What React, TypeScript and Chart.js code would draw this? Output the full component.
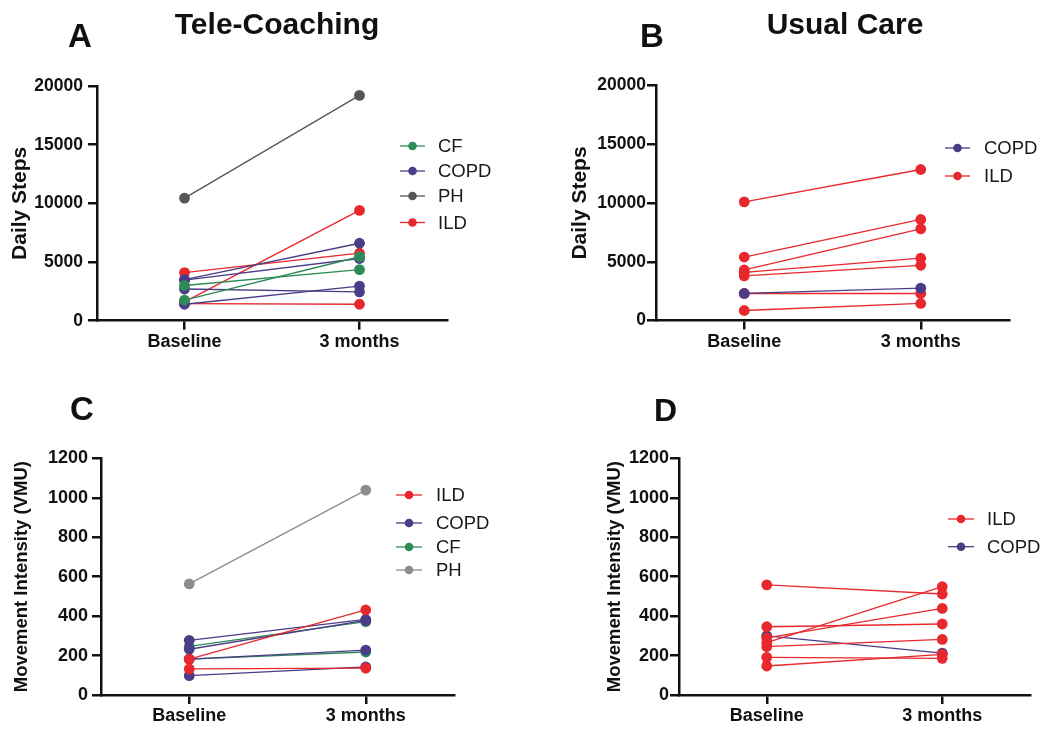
import React, { useEffect, useRef } from 'react';
import { Chart, registerables } from 'chart.js';

Chart.register(...registerables);

// ---------- data ----------
const categories = ['Baseline', '3 months'];

const stepTicks = [0, 5000, 10000, 15000, 20000];
const vmuTicks = [0, 200, 400, 600, 800, 1000, 1200];

// Panel A – Tele-Coaching, daily steps
const aCfBaseline = [3000, 1750];
const aCf3Months = [4350, 5450];
const aCopdBaseline = [3500, 3450, 2700, 1400];
const aCopd3Months = [6600, 5300, 2450, 2950];
const aPhBaseline = [10450];
const aPh3Months = [19200];
const aIldBaseline = [4100, 1600, 1450];
const aIld3Months = [5750, 9400, 1400];

// Panel B – Usual Care, daily steps
const bCopdBaseline = [2300];
const bCopd3Months = [2750];
const bIldBaseline = [10100, 5400, 4300, 4100, 3800, 2300, 850];
const bIld3Months = [12850, 8600, 7800, 5300, 4700, 2300, 1450];

// Panel C – Tele-Coaching, movement intensity
const cIldBaseline = [182, 132];
const cIld3Months = [431, 136];
const cCopdBaseline = [277, 232, 182, 98];
const cCopd3Months = [383, 378, 228, 143];
const cCfBaseline = [246, 182];
const cCf3Months = [372, 218];
const cPhBaseline = [563];
const cPh3Months = [1039];

// Panel D – Usual Care, movement intensity
const dIldBaseline = [558, 346, 265, 290, 245, 191, 147];
const dIld3Months = [512, 360, 549, 439, 282, 186, 206];
const dCopdBaseline = [300];
const dCopd3Months = [212];

// ---------- styles ----------
const GREEN = '#2e8b57';
const PURPLE = '#4b3c87';
const DARKGREY = '#555555';
const LIGHTGREY = '#8c8c8c';
const RED = '#e8282c';
const FONT = '"Liberation Sans", Arial, Helvetica, sans-serif';
const INK = '#111111';

type Group = { label: string; color: string; base: number[]; months: number[] };

type PanelCfg = {
  left: number; top: number; w: number; h: number;
  plot: { l: number; t: number; r: number; b: number };
  yMax: number; ticks: number[];
  yTitle: string; yTitleSize: number; yTitleCenter: number;
  tickSize: number; tickPad: number; xPad: number;
  groups: Group[];
  legend: { x1: number; x2: number; tx: number; ys: number[] };
};

const legendPlugin = {
  id: 'pairLegend',
  afterDraw(chart: any, _args: any, opts: any) {
    const { ctx } = chart;
    const { items, x1, x2, tx, ys } = opts;
    ctx.save();
    items.forEach((it: any, i: number) => {
      const y = ys[i];
      ctx.strokeStyle = it.color;
      ctx.lineWidth = 1.3;
      ctx.beginPath();
      ctx.moveTo(x1, y);
      ctx.lineTo(x2, y);
      ctx.stroke();
      ctx.fillStyle = it.color;
      ctx.beginPath();
      ctx.arc((x1 + x2) / 2, y, 4.3, 0, Math.PI * 2);
      ctx.fill();
      ctx.fillStyle = '#1a1a1a';
      ctx.font = `18.5px ${FONT}`;
      ctx.textBaseline = 'middle';
      ctx.textAlign = 'left';
      ctx.fillText(it.label, tx, y + 1);
    });
    ctx.restore();
  },
};

function Panel({ cfg }: { cfg: PanelCfg }) {
  const ref = useRef<HTMLCanvasElement>(null);
  useEffect(() => {
    const datasets: any[] = [];
    cfg.groups.forEach((g) => {
      g.base.forEach((b, i) => {
        datasets.push({
          label: g.label,
          data: [b, g.months[i]],
          borderColor: g.color,
          backgroundColor: g.color,
          borderWidth: 1.3,
          pointRadius: 5.4,
          pointBorderWidth: 0,
          pointBackgroundColor: g.color,
          tension: 0,
          fill: false,
        });
      });
    });
    const chart = new Chart(ref.current as HTMLCanvasElement, {
      type: 'line',
      data: { labels: categories, datasets },
      plugins: [legendPlugin as any],
      options: {
        animation: false,
        responsive: false,
        maintainAspectRatio: false,
        layout: {
          padding: { left: 0, top: cfg.plot.t, right: cfg.w - cfg.plot.r, bottom: 0 },
        },
        plugins: {
          legend: { display: false },
          tooltip: { enabled: false },
          pairLegend: {
            items: cfg.groups.map((g) => ({ label: g.label, color: g.color })),
            ...cfg.legend,
          },
        } as any,
        scales: {
          x: {
            type: 'category',
            offset: true,
            afterFit: (s: any) => { s.height = cfg.h - cfg.plot.b; },
            grid: {
              display: true, drawOnChartArea: false, drawTicks: true, offset: false,
              tickLength: 9, lineWidth: 2.5, color: INK,
            },
            border: { display: true, width: 2.5, color: INK },
            ticks: {
              color: INK, padding: cfg.xPad, maxRotation: 0, autoSkip: false,
              font: { family: FONT, size: 18, weight: 'bold' },
            },
          },
          y: {
            type: 'linear',
            min: 0,
            max: cfg.yMax,
            afterFit: (s: any) => { s.width = cfg.plot.l; },
            afterBuildTicks: (s: any) => { s.ticks = cfg.ticks.map((v) => ({ value: v })); },
            grid: {
              display: true, drawOnChartArea: false, drawTicks: true,
              tickLength: 9, lineWidth: 2.5, color: INK,
            },
            border: { display: true, width: 2.5, color: INK },
            ticks: {
              color: INK, padding: cfg.tickPad,
              callback: (v: any) => String(v),
              font: { family: FONT, size: cfg.tickSize, weight: 'bold' },
            },
            title: {
              display: true,
              text: cfg.yTitle,
              color: INK,
              font: { family: FONT, size: cfg.yTitleSize, weight: 'bold', lineHeight: 1 },
              padding: { top: cfg.yTitleCenter - cfg.yTitleSize / 2, bottom: 0 },
            },
          },
        },
      } as any,
    });
    return () => chart.destroy();
  }, [cfg]);
  return (
    <canvas
      ref={ref}
      width={cfg.w}
      height={cfg.h}
      style={{ position: 'absolute', left: cfg.left, top: cfg.top, width: cfg.w, height: cfg.h }}
    />
  );
}

const panelA: PanelCfg = {
  left: 0, top: 0, w: 527, h: 365,
  plot: { l: 97, t: 86, r: 447, b: 320.7 },
  yMax: 20000, ticks: stepTicks,
  yTitle: 'Daily Steps', yTitleSize: 21, yTitleCenter: 20,
  tickSize: 17.5, tickPad: 5, xPad: 2,
  groups: [
    { label: 'CF', color: GREEN, base: aCfBaseline, months: aCf3Months },
    { label: 'COPD', color: PURPLE, base: aCopdBaseline, months: aCopd3Months },
    { label: 'PH', color: DARKGREY, base: aPhBaseline, months: aPh3Months },
    { label: 'ILD', color: RED, base: aIldBaseline, months: aIld3Months },
  ],
  legend: { x1: 400, x2: 425, tx: 438, ys: [146, 171, 196, 222.5] },
};

const panelB: PanelCfg = {
  left: 527, top: 0, w: 527, h: 365,
  plot: { l: 129, t: 85.5, r: 482, b: 320.5 },
  yMax: 20000, ticks: stepTicks,
  yTitle: 'Daily Steps', yTitleSize: 21, yTitleCenter: 53,
  tickSize: 17.5, tickPad: 1, xPad: 2,
  groups: [
    { label: 'COPD', color: PURPLE, base: bCopdBaseline, months: bCopd3Months },
    { label: 'ILD', color: RED, base: bIldBaseline, months: bIld3Months },
  ],
  legend: { x1: 418, x2: 443, tx: 457, ys: [148, 176] },
};

const panelC: PanelCfg = {
  left: 0, top: 365, w: 527, h: 366,
  plot: { l: 101, t: 93.3, r: 454, b: 330 },
  yMax: 1200, ticks: vmuTicks,
  yTitle: 'Movement Intensity (VMU)', yTitleSize: 18.5, yTitleCenter: 22,
  tickSize: 18, tickPad: 4, xPad: 1,
  groups: [
    { label: 'ILD', color: RED, base: cIldBaseline, months: cIld3Months },
    { label: 'COPD', color: PURPLE, base: cCopdBaseline, months: cCopd3Months },
    { label: 'CF', color: GREEN, base: cCfBaseline, months: cCf3Months },
    { label: 'PH', color: LIGHTGREY, base: cPhBaseline, months: cPh3Months },
  ],
  legend: { x1: 396, x2: 422, tx: 436, ys: [130, 158, 182, 205] },
};

const panelD: PanelCfg = {
  left: 527, top: 365, w: 527, h: 366,
  plot: { l: 152, t: 93.3, r: 503, b: 330 },
  yMax: 1200, ticks: vmuTicks,
  yTitle: 'Movement Intensity (VMU)', yTitleSize: 18.5, yTitleCenter: 88,
  tickSize: 18, tickPad: 1, xPad: 1,
  groups: [
    { label: 'ILD', color: RED, base: dIldBaseline, months: dIld3Months },
    { label: 'COPD', color: PURPLE, base: dCopdBaseline, months: dCopd3Months },
  ],
  legend: { x1: 421, x2: 447, tx: 460, ys: [154, 181.7] },
};

function Label({ text, x, capTop, size, center }: { text: string; x: number; capTop: number; size: number; center?: boolean }) {
  return (
    <div
      style={{
        position: 'absolute',
        left: x,
        top: capTop - 0.1305 * size,
        fontFamily: FONT,
        fontWeight: 'bold',
        fontSize: size,
        lineHeight: 1,
        color: INK,
        whiteSpace: 'nowrap',
        transform: center ? 'translateX(-50%)' : undefined,
      }}
    >
      {text}
    </div>
  );
}

export default function App() {
  return (
    <div style={{ position: 'absolute', left: 0, top: 0, width: 1054, height: 731, background: '#ffffff', overflow: 'hidden' }}>
      <Panel cfg={panelA} />
      <Panel cfg={panelB} />
      <Panel cfg={panelC} />
      <Panel cfg={panelD} />
      <Label text="A" x={68} capTop={23.5} size={33} />
      <Label text="B" x={640} capTop={23.5} size={33} />
      <Label text="C" x={70} capTop={396} size={33} />
      <Label text="D" x={654} capTop={398} size={32} />
      <Label text="Tele-Coaching" x={277} capTop={13.3} size={30} center />
      <Label text="Usual Care" x={845} capTop={13.3} size={30} center />
    </div>
  );
}
